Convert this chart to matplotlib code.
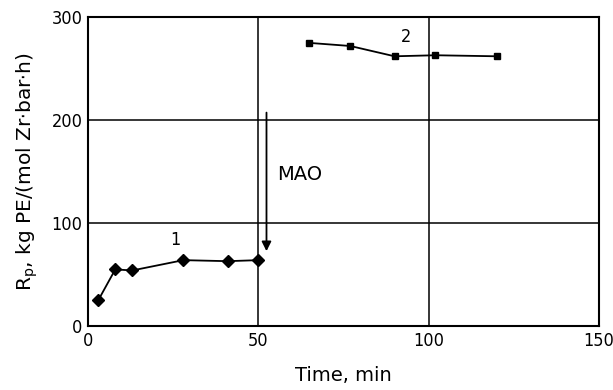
import matplotlib.pyplot as plt

# donnees
t1 = [3, 8, 13, 28, 41, 50]
rp1 = [25, 55, 54, 64, 63, 64]
t2 = [65, 77, 90, 102, 120]
rp2 = [275, 272, 262, 263, 262]

xticks = [0, 50, 100, 150]
yticks = [0, 100, 200, 300]

plt.rcParams['font.family'] = ['DejaVu Sans']
plt.rcParams['font.stretch'] = 'condensed'
fig = plt.figure(figsize=(6.13, 3.9), dpi=100)
ax = fig.add_axes([0.1436, 0.164, 0.8334, 0.792])

ax.plot(t1, rp1, color='black', lw=1.3, marker='D', markersize=6.5)
ax.plot(t2, rp2, color='black', lw=1.3, marker='s', markersize=5)

# grille
for v in [50, 100]:
    ax.axvline(v, color='black', lw=1.1)
for v in [100, 200]:
    ax.axhline(v, color='black', lw=1.1)

ax.text(25.5, 75, '1', fontsize=13, ha='center', va='bottom')
ax.text(93.5, 272, '2', fontsize=13, ha='center', va='bottom')

# fleche MAO
ax.annotate('', xy=(52.4, 70), xytext=(52.4, 210),
            arrowprops=dict(arrowstyle='-|>', color='black', lw=1.3,
                            mutation_scale=14))
ax.text(55.5, 147, 'MAO', fontsize=14, fontstretch='normal', ha='left', va='center')

ax.set_xlim(0, 150)
ax.set_ylim(0, 300)
ax.set_xticks(xticks)
ax.set_yticks(yticks)
ax.tick_params(length=0, labelsize=13, pad=4)
for s in ax.spines.values():
    s.set_linewidth(1.5)

ax.set_xlabel('Time, min', fontsize=14, fontstretch='normal', labelpad=12)
ax.set_ylabel(r'R$_\mathregular{p}$, kg PE/(mol Zr$\cdot$bar$\cdot$h)', fontsize=14.5,
              fontstretch='normal', labelpad=8)

plt.savefig('out.png', dpi=100)
